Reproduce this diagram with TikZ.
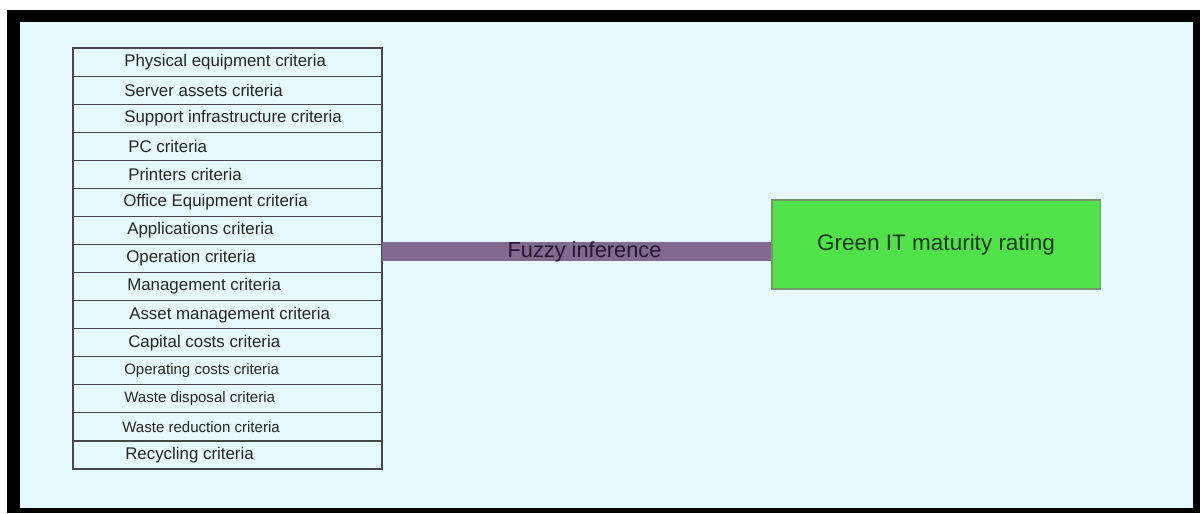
\documentclass[tikz,border=0pt]{standalone}
\usepackage{fontspec}
\setmainfont{Liberation Sans}

\definecolor{paneblue}{RGB}{230,249,253}
\definecolor{critline}{RGB}{70,72,76}
\definecolor{barpurple}{RGB}{128,106,144}
\definecolor{bartext}{RGB}{38,22,48}
\definecolor{ratinggreen}{RGB}{80,226,72}
\definecolor{ratingline}{RGB}{118,150,108}
\definecolor{ratingtext}{RGB}{22,58,22}

\newcommand\critfont{\fontsize{12}{14}\selectfont}
\newcommand\critsmall{\fontsize{10.7}{13}\selectfont}

\tikzset{
	crit/.style={shape=rectangle, draw=critline, line width=0.8pt, minimum width=7.725cm, minimum height=0.7017cm, inner sep=0pt},
	crittext/.style={anchor=west, inner sep=0pt, text=black!85},
	bar/.style={draw=barpurple, line width=0.475cm},
	rating/.style={shape=rectangle, fill=ratinggreen, draw=ratingline, line width=0.8pt, minimum width=8.2cm, minimum height=2.225cm, font=\fontsize{16}{19}\selectfont, text=ratingtext}
}

\begin{document}
\begin{tikzpicture}[x=0.025cm, y=-0.025cm]
	% Frame and background:
	\useasboundingbox (0, 0) rectangle (1200, 513);
	\fill[white] (0, 0) rectangle (1200, 513);
	\fill[black] (7, 10) rectangle (1200, 513);
	\fill[paneblue] (20, 22) rectangle (1193, 508);
	% Criteria table:
	\foreach \t/\x/\f [count=\i] in {
		Physical equipment criteria/124/\critfont,
		Server assets criteria/124/\critfont,
		Support infrastructure criteria/124/\critfont,
		PC criteria/128/\critfont,
		Printers criteria/128/\critfont,
		Office Equipment criteria/123/\critfont,
		Applications criteria/127/\critfont,
		Operation criteria/126/\critfont,
		Management criteria/127/\critfont,
		Asset management criteria/129/\critfont,
		Capital costs criteria/128/\critfont,
		Operating costs criteria/124/\critsmall,
		Waste disposal criteria/124/\critsmall,
		Waste reduction criteria/122/\critsmall,
		Recycling criteria/125/\critfont}{
		\node[crit] (row\i) at (227.5, {48+28.07*(\i-0.5)}) {};
		\node[crittext, font=\f] (txt\i) at (\x, {48+28.07*(\i-0.5)}) {\t};
	}
	% Rating box and fuzzy inference bar:
	\node[rating] (rating) at (936, 244.5) {Green IT maturity rating};
	\coordinate (barleft) at (382, 251.5);
	\coordinate (barright) at (rating.west |- barleft);
	\draw[bar] (barleft) -- (barright) node[pos=0.52, text=bartext, font=\fontsize{15.5}{18}\selectfont] (fuzzy) {Fuzzy inference};
\end{tikzpicture}
\end{document}
